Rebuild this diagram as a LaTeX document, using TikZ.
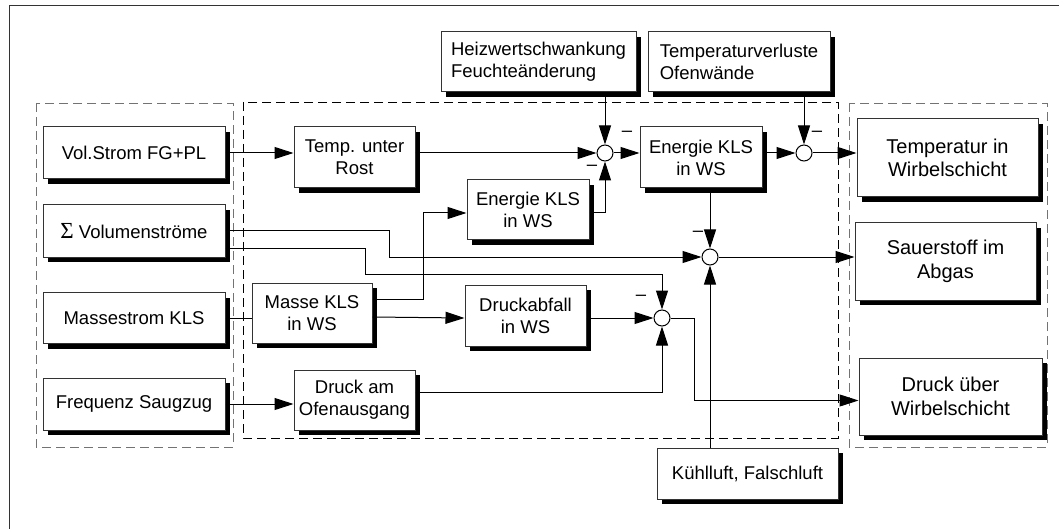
\documentclass[tikz,border=0pt]{standalone}
\usepackage{fontspec}
\setmainfont{Liberation Sans}
\newfontfamily\sigmafont{Liberation Serif}
\usetikzlibrary{arrows.meta,shadows}

\begin{document}
\begin{tikzpicture}[x=1pt,y=-1pt,
    arrow/.style = {line width=1pt,-{Triangle[length=19pt,width=12pt]}},
    block/.style = {draw=black!80,line width=1pt,fill=white,align=center,inner sep=2pt,
                    font=\fontsize{18.5}{22}\selectfont,
                    drop shadow={shadow xshift=5pt,shadow yshift=-5pt,fill=black,opacity=1}},
    bigblock/.style = {block,font=\fontsize{20}{23.5}\selectfont},
    boxsize/.style 2 args = {minimum width=#1,minimum height=#2},
    sumpt/.style = {circle,draw,line width=1pt,fill=white,minimum size=16pt,inner sep=0pt},
    minus/.style = {inner sep=0pt,font=\fontsize{18.5}{22}\selectfont},
    group/.style = {dash pattern=on 9pt off 5pt,line width=0.9pt}]
    \useasboundingbox (0,0) rectangle (1059,529);
    % frame and groups
    \draw[line width=1pt,black!80] (9,529) -- (9,6) -- (1059,6);
    \draw[group,black!55] (36,103) rectangle (233,447);
    \draw[group] (243,102) rectangle (838,438);
    \draw[group,black!55] (849,103) rectangle (1047,447);

    % inputs
    \node[block,boxsize={182pt}{52pt}] (vol)    at (134,153) {Vol.Strom FG+PL};
    \node[block,boxsize={182pt}{52pt}] (vsum)   at (134,231)
        {{\sigmafont\fontsize{23}{23}\selectfont Σ} Volumenströme};
    \node[block,boxsize={182pt}{51pt}] (mstrom) at (134,318) {Massestrom KLS};
    \node[block,boxsize={182pt}{52pt}] (freq)   at (134,404) {Frequenz Saugzug};

    % process
    \node[block,boxsize={121pt}{61pt}] (rost)  at (354.5,157.5) {Temp. unter\\Rost};
    \node[block,boxsize={195pt}{60pt},align=left] (heiz) at (538.5,62) {Heizwertschwankung\\Feuchteänderung};
    \node[block,boxsize={182pt}{60pt},align=left] (verl) at (739,62) {Temperaturverluste\\Ofenwände};
    \node[block,boxsize={122pt}{61pt}] (enA)   at (701,157.5) {Energie KLS\\in WS};
    \node[block,boxsize={122pt}{60pt}] (enB)   at (528,210) {Energie KLS\\in WS};
    \node[block,boxsize={120pt}{60pt}] (masse) at (312,313) {Masse KLS\\in WS};
    \node[block,boxsize={121pt}{61pt}] (dab)   at (525.5,315.5) {Druckabfall\\in WS};
    \node[block,boxsize={121pt}{60pt}] (dofen) at (354.5,400) {Druck am\\Ofenausgang};
    \node[block,boxsize={181pt}{51pt}] (kuehl) at (747.5,473.5) {Kühlluft, Falschluft};

    % outputs
    \node[bigblock,boxsize={181pt}{78pt}] (tws) at (947.5,158) {Temperatur in\\Wirbelschicht};
    \node[bigblock,boxsize={181pt}{77pt}] (o2)  at (945.5,261.5) {Sauerstoff im\\Abgas};
    \node[bigblock,boxsize={183pt}{77pt}] (pws) at (950.5,396.5) {Druck über\\Wirbelschicht};

    % summing points
    \node[sumpt] (s1) at (605,153) {};
    \node[sumpt] (s2) at (804,153) {};
    \node[sumpt] (s3) at (710,257) {};
    \node[sumpt] (s4) at (662,318) {};

    \node[minus] (m1) at (627,134) {--};
    \node[minus] (m2) at (592,168) {--};
    \node[minus] (m3) at (817,134) {--};
    \node[minus] (m4) at (698,234) {--};
    \node[minus] (m5) at (641,298) {--};

    % signals
    \draw[arrow] (vol.east) -- (vol.east -| rost.west);
    \draw[arrow] (rost.east |- s1) -- (s1);
    \draw[arrow] (heiz.south -| s1) -- (s1);
    \draw[arrow] ([yshift=-3pt]enB.east) -| (s1);
    \draw[arrow] (s1) -- (s1 -| enA.west);
    \draw[arrow] (enA.east |- s2) -- (s2);
    \draw[arrow] (verl.south -| s2) -- (s2);
    \draw[arrow] (s2) -- (s2 -| tws.west);
    \draw[arrow] (enA.south -| s3) -- (s3);
    \draw[arrow] (vsum.east) -- ++(164,0) |- (s3);
    \draw[arrow] ([yshift=-17pt]vsum.east) -- ++(140,0) -- ++(0,26) -| (s4);
    \draw[line width=1pt] (mstrom.east) -- (mstrom.east -| masse.west);
    \draw[arrow] ([yshift=14pt]masse.east) -- ++(51,0) |- ([yshift=-3pt]enB.west);
    \draw[arrow] ([yshift=-4pt]masse.east) -- (dab.west |- s4);
    \draw[arrow] (dab.east |- s4) -- (s4);
    \draw[arrow] ([yshift=8pt]dofen.east) -| (s4);
    \draw[arrow] (freq.east) -- (freq.east -| dofen.west);
    \draw[arrow] (s4) -- ++(32,0) |- ([yshift=-4pt]pws.west);
    \draw[arrow] (kuehl.north -| s3) -- (s3);
    \draw[arrow] (s3) -- (s3 -| o2.west);
\end{tikzpicture}
\end{document}
